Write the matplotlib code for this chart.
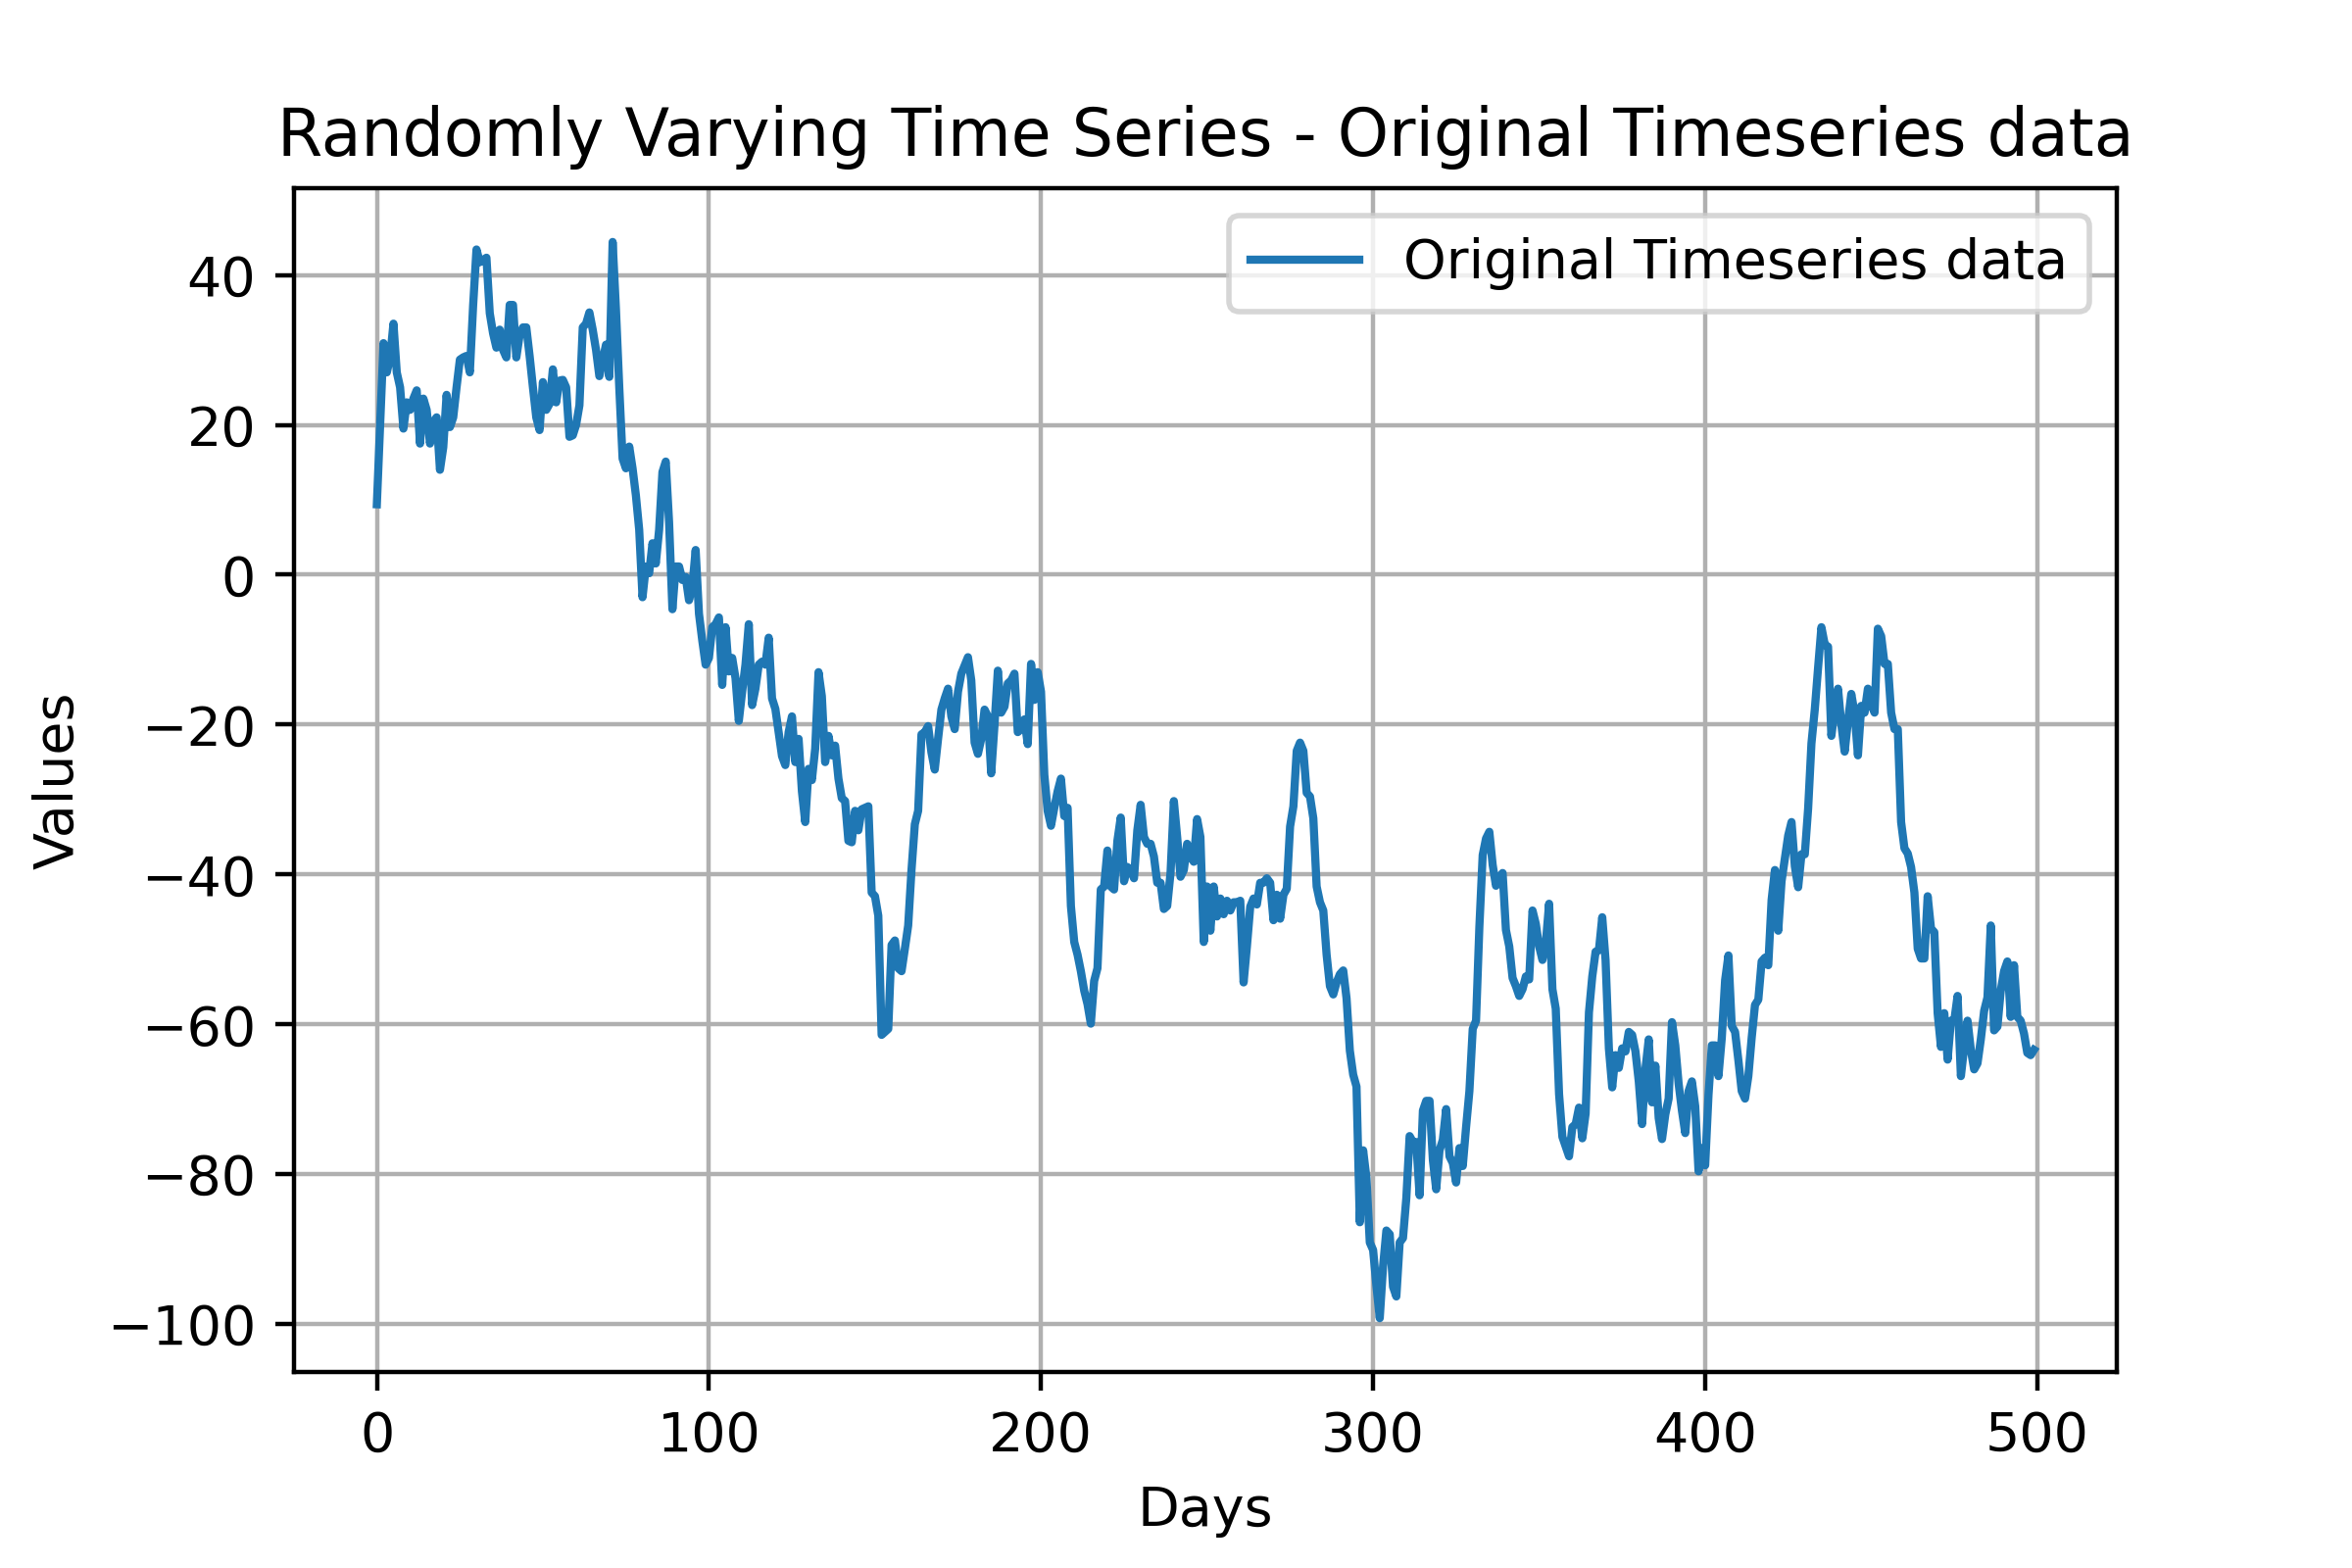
import matplotlib
matplotlib.use("Agg")
import matplotlib.pyplot as plt
import numpy as np

days = list(range(500))

values = [
    9.4, 20, 30.9, 27, 29, 33.5, 27, 25, 19.5, 23,
    22, 23.5, 24.6, 17.5, 23.5, 22, 17.5, 20.4, 21, 14,
    17, 24, 19.7, 21, 25, 28.7, 29, 29.2, 27, 36,
    43.4, 41.7, 42, 42.3, 34.9, 32.2, 30.3, 32.7, 30, 29,
    36, 36, 29, 32, 33, 33, 29.2, 25, 21, 19.3,
    25.7, 22, 22.8, 27.4, 23, 25.9, 26, 25, 18.4, 18.6,
    20, 22.6, 33, 33.5, 35, 32.7, 30, 26.5, 28.6, 30.7,
    26.4, 44.4, 35.4, 25, 15.5, 14.2, 17.1, 14.2, 10.6, 6,
    -3, 1.1, 0.2, 4.2, 1.5, 6, 13.7, 15.1, 7, -4.6,
    1.1, 1.1, -0.7, -0.3, -3.4, -1.6, 3.3, -5.2, -8.8, -12,
    -11.1, -7, -6.6, -5.7, -14.7, -7, -12.9, -11.1, -13.8, -19.5,
    -15.6, -12, -6.6, -17.4, -15.2, -12, -11.6, -12, -8.4, -16.5,
    -17.9, -21, -24.2, -25.4, -21, -18.9, -25, -21.9, -28.9, -33,
    -25.9, -27.4, -23.2, -13, -16.2, -25, -21.5, -24.1, -22.8, -27.2,
    -29.8, -30.2, -35.5, -35.7, -31.5, -34.1, -31.3, -31.1, -30.9, -42.4,
    -42.9, -45.5, -61.4, -61, -60.6, -49.4, -48.8, -52.5, -52.9, -49.9,
    -46.8, -39.4, -33.3, -31.5, -21.3, -21, -20.2, -23.7, -26, -21.9,
    -18, -16.5, -15.2, -18.9, -20.6, -15.6, -13.2, -12.1, -11, -14.1,
    -22.4, -23.9, -21.9, -18, -18.9, -26.5, -20, -12.8, -18.4, -17.6,
    -14.5, -14.1, -13.2, -21, -20.6, -19.3, -22.6, -11.9, -16.7, -13,
    -15.6, -26.7, -31.5, -33.5, -31.1, -28.9, -27.2, -32.2, -31.1, -44.2,
    -49, -50.7, -52.9, -55.5, -57.3, -59.9, -54.2, -52.5, -42, -41.6,
    -36.8, -41.6, -42, -35.5, -32.4, -40.9, -39, -39.4, -40.5, -34.1,
    -30.7, -35, -35.9, -35.9, -37.6, -41.1, -41.1, -44.6, -44.2, -39.8,
    -30.2, -35, -40.3, -39.4, -35.9, -37.6, -38.3, -32.6, -35, -49,
    -41.6, -47.5, -41.6, -45.6, -43.2, -45.3, -43.5, -44.8, -43.7, -43.7,
    -43.5, -54.4, -49.6, -44.3, -43.2, -44, -41.1, -41.1, -40.5, -41.1,
    -46.1, -42.7, -45.9, -42.7, -41.9, -33.6, -30.9, -23.5, -22.4, -23.5,
    -29.1, -29.6, -32.5, -41.6, -43.7, -44.8, -50.7, -54.9, -56, -54.4,
    -53.3, -52.8, -56.5, -63.5, -66.7, -68.3, -86.4, -76.8, -80.5, -89.1,
    -90.1, -94.9, -99.2, -92.3, -87.5, -88, -95, -96.3, -89.1, -88.5,
    -83.2, -74.9, -75.7, -75.7, -82.8, -71.5, -70.2, -70.2, -78.1, -82,
    -76.8, -75.4, -71.3, -77.6, -78.5, -81.1, -76.5, -78.9, -73.7, -68.9,
    -60.6, -59.5, -47, -37.4, -35.2, -34.3, -38.7, -41.5, -40.4, -39.8,
    -47.4, -49.6, -53.8, -54.9, -56.2, -55.3, -53.6, -54, -44.8, -46.6,
    -49.6, -51.4, -49.2, -43.9, -55.3, -57.9, -69.3, -75, -76.3, -77.6,
    -73.7, -73.3, -71.1, -75.2, -71.9, -58.4, -53.6, -50.3, -50.1, -45.7,
    -51.4, -63.2, -68.4, -64.1, -65.8, -63.2, -63.6, -61, -61.4, -63.6,
    -67.6, -73.3, -66, -62, -70.4, -65.5, -72.5, -75.3, -72, -69.9,
    -59.7, -62.8, -67.9, -71.5, -74.5, -68.9, -67.6, -70.9, -79.6, -76.5,
    -78.8, -69.4, -62.8, -62.8, -66.9, -61.8, -54.1, -50.8, -60.2, -61,
    -64.8, -68.9, -69.9, -66.9, -61.8, -57.4, -56.7, -51.6, -51.1, -52.1,
    -43.4, -39.4, -47.5, -40.9, -37.8, -34.8, -33, -38.9, -41.7, -37.3,
    -37.3, -31.2, -22.5, -18, -12.4, -7, -9.3, -9.6, -21.5, -18,
    -15.2, -20, -23.6, -19.5, -15.9, -18.5, -24.1, -17.5, -18.4, -15.2,
    -17.3, -18.4, -7.2, -8.2, -11.9, -11.9, -18.4, -20.6, -20.6, -33,
    -36.5, -37.2, -39, -42.4, -49.9, -51.2, -51.2, -42.9, -47.2, -47.7,
    -58.5, -63, -58.5, -64.7, -59.5, -59.5, -56.2, -66.9, -63, -59.5,
    -63.4, -66, -65.2, -62, -58.2, -56.4, -46.8, -60.8, -60.3, -55.5,
    -52.9, -51.6, -59, -52.1, -59, -59.5, -61.2, -63.8, -64.1, -63.4,
]

series_label = "Original Timeseries data"
title = "Randomly Varying Time Series - Original Timeseries data"
x_label = "Days"
y_label = "Values"

fig, ax = plt.subplots(figsize=(6, 4), dpi=400)
fig.subplots_adjust(left=0.125, right=0.9, top=0.88, bottom=0.125)
ax.plot(days, values, color="#1f77b4", linewidth=1.5, label=series_label)
ax.set_title(title)
ax.set_xlabel(x_label)
ax.set_ylabel(y_label)
ax.grid(True)
ax.legend(loc="upper right")
fig.savefig("out.png", dpi=400)
